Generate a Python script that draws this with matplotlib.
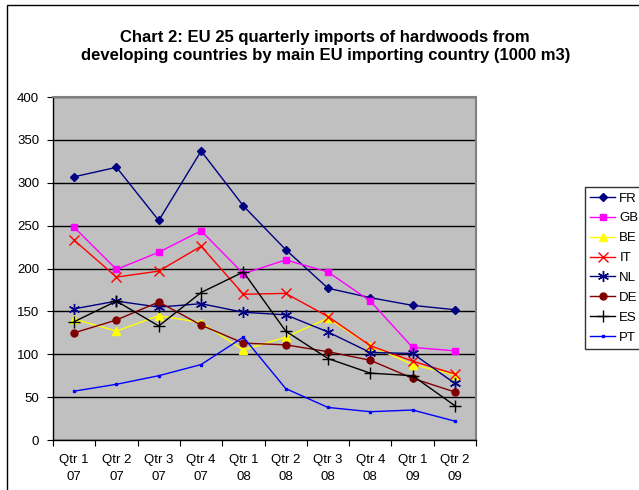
import matplotlib
matplotlib.use("Agg")
import matplotlib.pyplot as plt
from matplotlib.patches import Rectangle

plt.rcParams['font.family'] = ['Liberation Sans', 'DejaVu Sans']

quarters = ["Qtr 1\n07", "Qtr 2\n07", "Qtr 3\n07", "Qtr 4\n07", "Qtr 1\n08",
            "Qtr 2\n08", "Qtr 3\n08", "Qtr 4\n08", "Qtr 1\n09", "Qtr 2\n09"]

fr = [307, 318, 256, 337, 273, 222, 177, 166, 157, 152]
gb = [248, 199, 219, 244, 194, 210, 196, 162, 108, 104]
be = [141, 127, 145, 137, 105, 120, 142, 110, 88, 76]
it = [233, 190, 197, 226, 170, 171, 144, 110, 92, 77]
nl = [153, 162, 155, 159, 149, 146, 126, 102, 101, 66]
de = [125, 140, 161, 134, 113, 111, 103, 93, 72, 56]
es = [138, 162, 133, 172, 196, 127, 95, 78, 75, 40]
pt = [57, 65, 75, 88, 120, 60, 38, 33, 35, 22]

series = [
    ("FR", fr, "#000080", "D", 4),
    ("GB", gb, "#FF00FF", "s", 5),
    ("BE", be, "#FFFF00", "^", 6),
    ("IT", it, "#FF0000", "x", 7),
    ("NL", nl, "#000080", (6, 2, 0), 8),
    ("DE", de, "#800000", "o", 5),
    ("ES", es, "#000000", "+", 8),
    ("PT", pt, "#0000FF", "s", 2),
]

fig = plt.figure(figsize=(6.39, 4.90), dpi=100)
ax = fig.add_axes([0.083, 0.102, 0.662, 0.700])
ax.set_facecolor("#C0C0C0")

x = list(range(len(quarters)))
for name, vals, col, mk, ms in series:
    ax.plot(x, vals, color=col, marker=mk, markersize=ms, linewidth=1,
            markeredgewidth=1, label=name, zorder=3)

ax.set_ylim(0, 400)
ax.set_yticks(range(0, 401, 50))
ax.set_xlim(-0.5, len(quarters) - 0.5)
ax.set_xticks([i - 0.5 for i in range(len(quarters) + 1)])
ax.set_xticklabels([])
ax.set_xticks(x, minor=True)
ax.set_xticklabels(quarters, minor=True, linespacing=1.55)
ax.tick_params(axis="x", which="minor", length=0, pad=10, labelsize=9.5)
ax.tick_params(axis="both", which="major", length=4, direction="out", labelsize=9.5)
ax.tick_params(axis="y", pad=6)
ax.yaxis.grid(True, color="black", linewidth=1)
ax.set_axisbelow(True)
for s in ax.spines.values():
    s.set_color("#808080")
    s.set_linewidth(1.5)
ax.spines["bottom"].set_color("black")
ax.spines["left"].set_color("black")
ax.spines["bottom"].set_linewidth(1)
ax.spines["left"].set_linewidth(1)

fig.text(0.509, 0.905, "Chart 2: EU 25 quarterly imports of hardwoods from\n"
         "developing countries by main EU importing country (1000 m3)",
         ha="center", va="center", fontsize=12, fontweight="bold",
         linespacing=1.3)

leg = ax.legend(loc="upper left", bbox_to_anchor=(585 / 639, 1 - 187 / 490),
                bbox_transform=fig.transFigure, frameon=True, fancybox=False,
                fontsize=9.5, handlelength=1.9, labelspacing=0.58,
                borderpad=0.4, handletextpad=0.3, borderaxespad=0)
leg.get_frame().set_edgecolor("black")
leg.get_frame().set_linewidth(1)

fig.patches.append(Rectangle((7 / 639, -0.1), 1.1, 1 - 5 / 490 + 0.1,
                             transform=fig.transFigure, fill=False,
                             edgecolor="black", linewidth=1))

fig.savefig("out.png", dpi=100)
